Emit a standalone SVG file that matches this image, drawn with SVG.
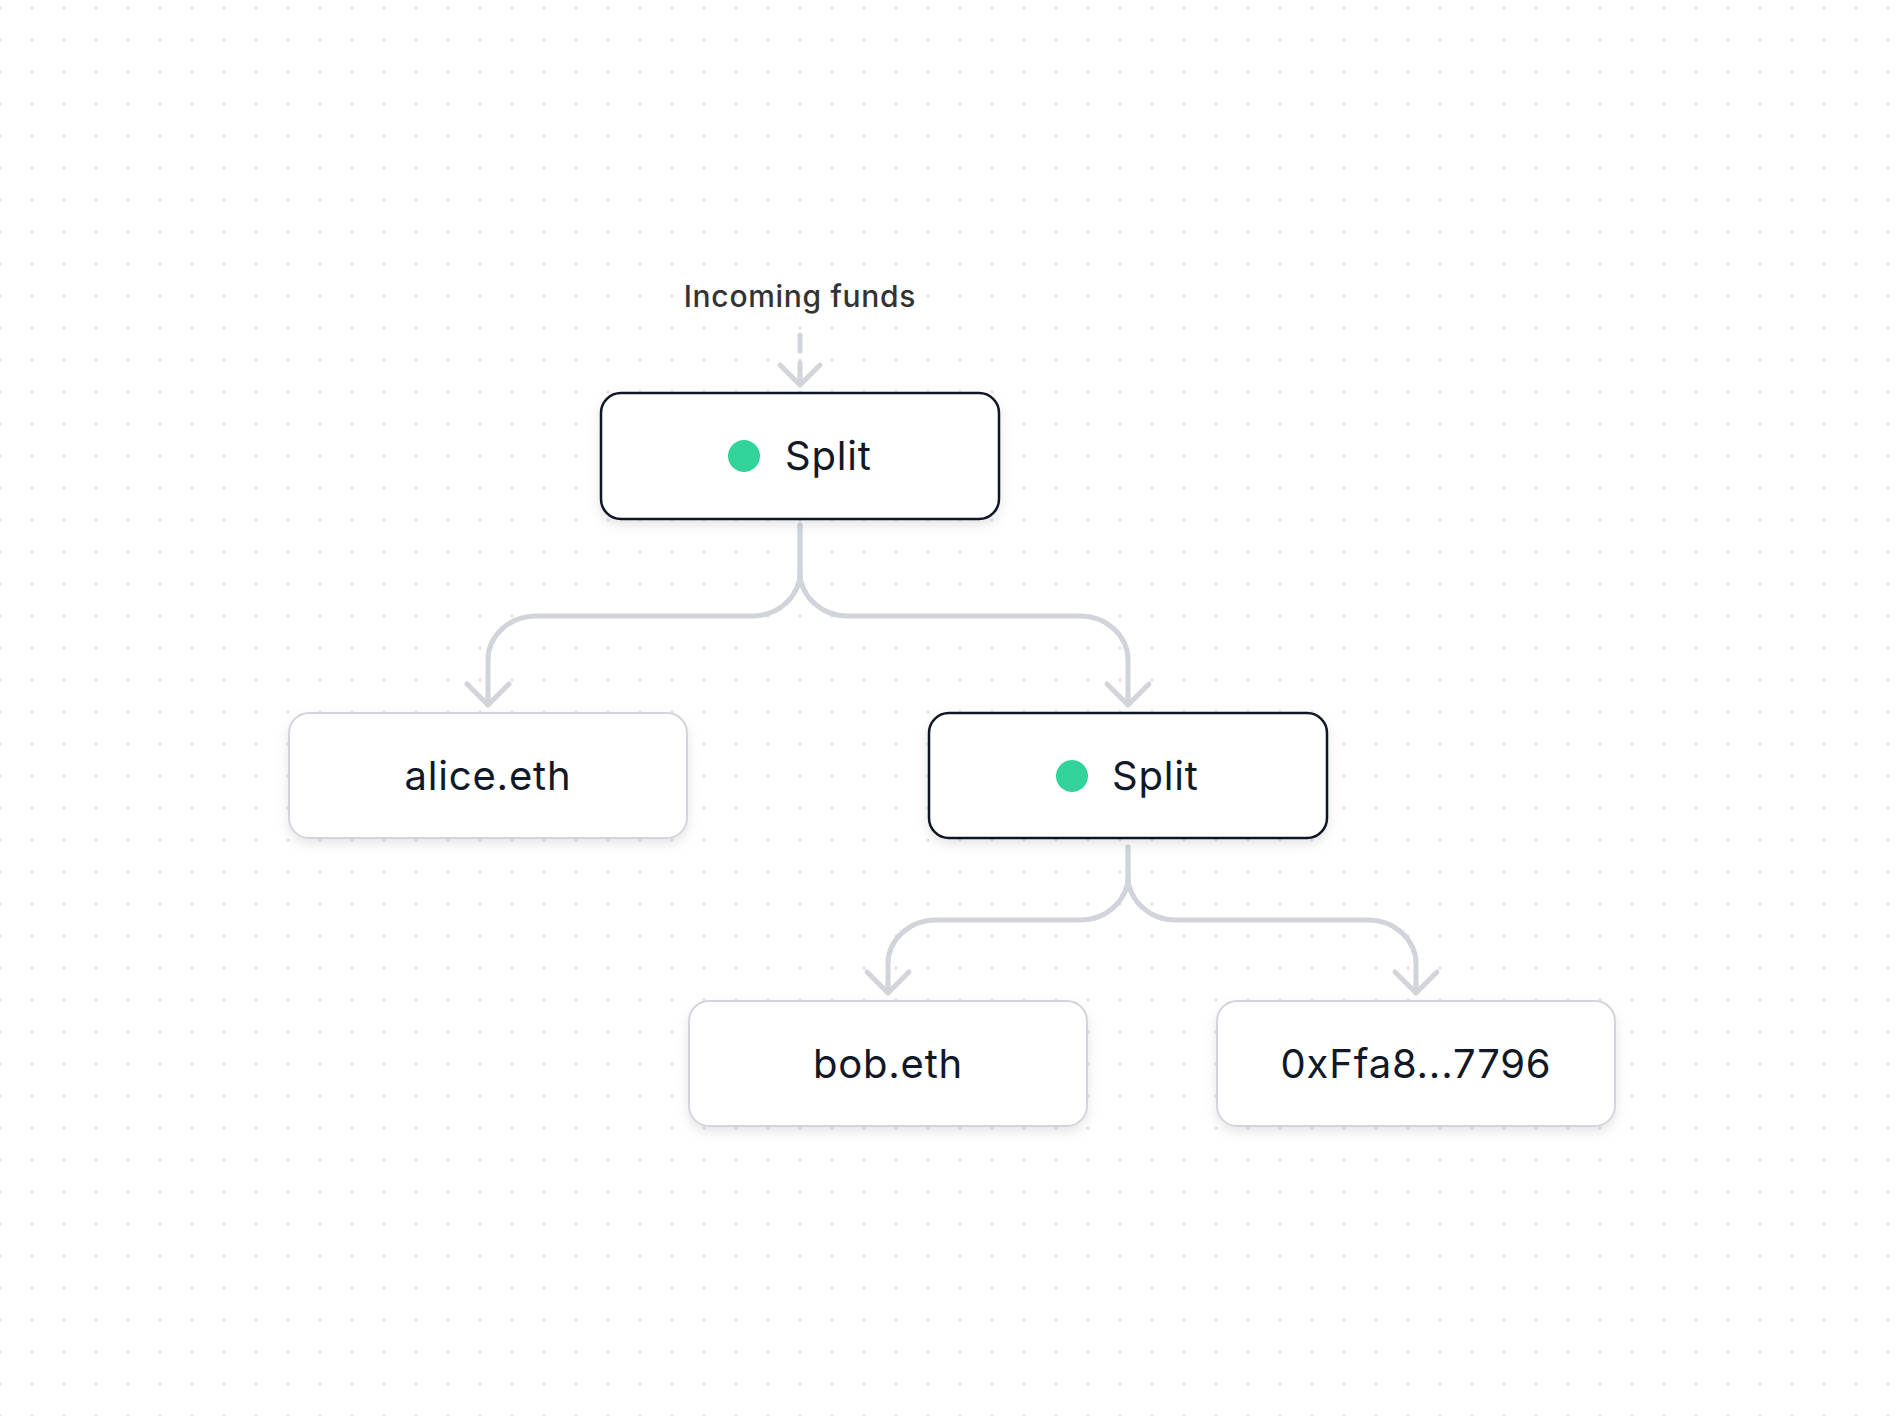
<svg xmlns="http://www.w3.org/2000/svg" width="1904" height="1416" viewBox="0 0 1904 1416">
  <style>
    .conn { fill: none; stroke: #d1d5db; stroke-width: 5; stroke-linecap: round; stroke-linejoin: round; }
    .box-split { fill: #ffffff; stroke: #111827; stroke-width: 2.5; }
    .box-leaf { fill: #ffffff; stroke: #d1d5db; stroke-width: 2; }
    .label { font-family: Inter, "Liberation Sans", sans-serif; font-size: 40px; fill: #111827; letter-spacing: 0.8px; }
    .caption { font-family: Inter, "Liberation Sans", sans-serif; font-size: 30px; font-weight: 500; fill: #333333; letter-spacing: 0.7px; }
    .dot { fill: #34d399; }
  </style>
  <defs>
    <pattern id="grid" x="-16" y="-8" width="32" height="32" patternUnits="userSpaceOnUse">
      <circle cx="16" cy="16" r="1.7" fill="#e2e2e4"/>
    </pattern>
    <filter id="shadow" x="-10%" y="-20%" width="120%" height="150%">
      <feDropShadow dx="0" dy="5" stdDeviation="6" flood-color="#000000" flood-opacity="0.10"/>
    </filter>
  </defs>
  <rect x="0" y="0" width="1904" height="1416" fill="#ffffff"/>
  <rect x="0" y="0" width="1904" height="1416" fill="url(#grid)"/>

  <text class="caption" x="800" y="307" text-anchor="middle">Incoming funds</text>

  <g id="connectors">
    <path class="conn" d="M800 335 V380" stroke-dasharray="16 12"/>
    <polyline class="conn" points="780,365 800,385 820,365"/>

    <path class="conn" d="M800 525 V572 A48 44 0 0 1 752 616 H536 A48 44 0 0 0 488 660 V703"/>
    <polyline class="conn" points="467,684 488,705 509,684"/>
    <path class="conn" d="M800 525 V572 A48 44 0 0 0 848 616 H1080 A48 44 0 0 1 1128 660 V703"/>
    <polyline class="conn" points="1107,684 1128,705 1149,684"/>

    <path class="conn" d="M1128 847 V876 A48 44 0 0 1 1080 920 H936 A48 44 0 0 0 888 964 V991"/>
    <polyline class="conn" points="867,972 888,993 909,972"/>
    <path class="conn" d="M1128 847 V876 A48 44 0 0 0 1176 920 H1368 A48 44 0 0 1 1416 964 V991"/>
    <polyline class="conn" points="1395,972 1416,993 1437,972"/>
  </g>

  <g id="split1">
    <rect class="box-split" x="601" y="393" width="398" height="126" rx="20" filter="url(#shadow)"/>
    <circle class="dot" cx="744" cy="456" r="16"/>
    <text class="label" x="785" y="470">Split</text>
  </g>

  <g id="alice">
    <rect class="box-leaf" x="289" y="713" width="398" height="125" rx="20" filter="url(#shadow)"/>
    <text class="label" x="488" y="790" text-anchor="middle">alice.eth</text>
  </g>

  <g id="split2">
    <rect class="box-split" x="929" y="713" width="398" height="125" rx="20" filter="url(#shadow)"/>
    <circle class="dot" cx="1072" cy="776" r="16"/>
    <text class="label" x="1112" y="790">Split</text>
  </g>

  <g id="bob">
    <rect class="box-leaf" x="689" y="1001" width="398" height="125" rx="20" filter="url(#shadow)"/>
    <text class="label" x="888" y="1078" text-anchor="middle">bob.eth</text>
  </g>

  <g id="addr">
    <rect class="box-leaf" x="1217" y="1001" width="398" height="125" rx="20" filter="url(#shadow)"/>
    <text class="label" x="1416" y="1078" text-anchor="middle">0xFfa8...7796</text>
  </g>
</svg>
